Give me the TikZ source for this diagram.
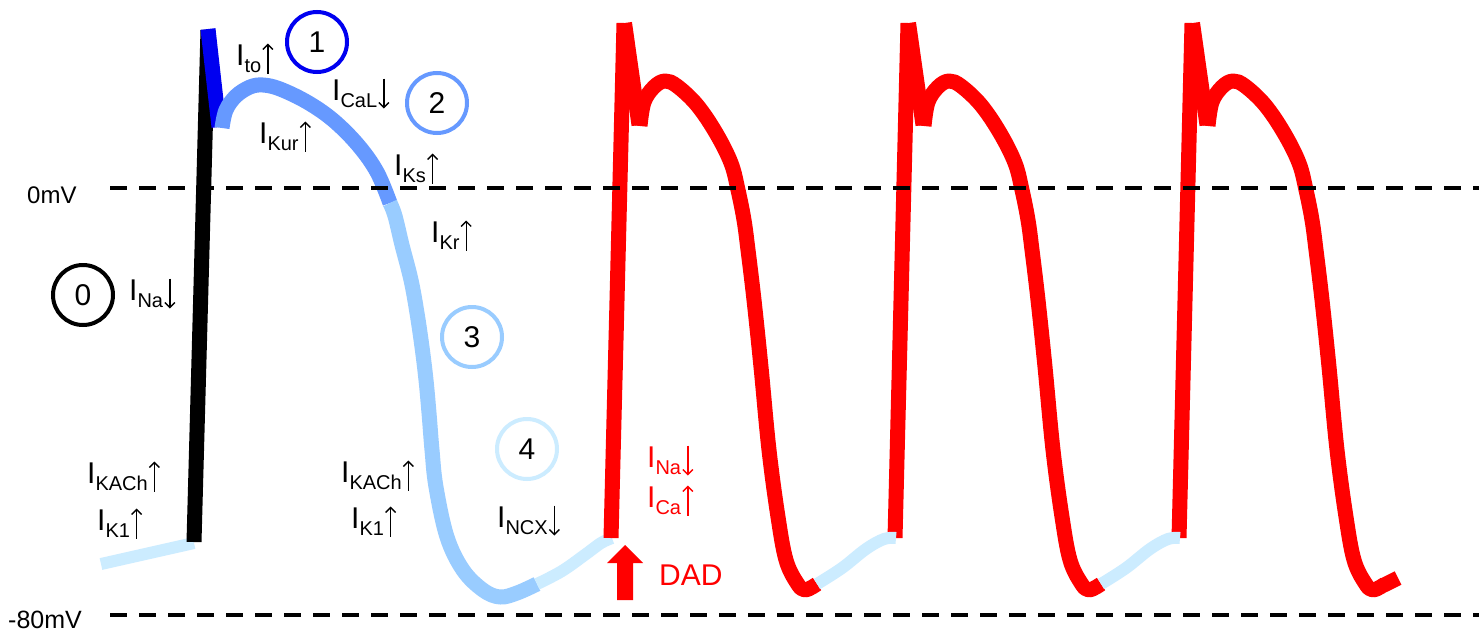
\documentclass[tikz,border=0pt]{standalone}
\usepackage{fontspec}
\setmainfont{Liberation Sans}
\usetikzlibrary{arrows.meta}
\definecolor{phA}{HTML}{0000F0}
\definecolor{phB}{HTML}{6699FF}
\definecolor{phC}{HTML}{99CCFF}
\definecolor{phD}{HTML}{CCECFF}
\definecolor{apred}{HTML}{FF0000}
\newcommand{\upar}{\hspace{1pt}\tikz[x=1pt,y=1pt,baseline=0pt]{\draw[line width=1.4pt, line cap=butt, -{Straight Barb[length=5pt,width=10pt]}] (0,-8.5)--(0,21.5);}}
\newcommand{\dnar}{\hspace{1pt}\tikz[x=1pt,y=1pt,baseline=0pt]{\draw[line width=1.4pt, line cap=butt, -{Straight Barb[length=5pt,width=10pt]}] (0,21.5)--(0,-8.5);}}
\newcommand{\cur}[2]{I\raisebox{-7pt}{\fontsize{20}{20}\selectfont #1}#2}
\begin{document}
\begin{tikzpicture}[x=1pt,y=-1pt,
  trace/.style={line width=15pt, line cap=butt, line join=round},
  lt/.style={line width=12pt, phD, line cap=butt},
  lbl/.style={anchor=base west, inner sep=0pt, font=\fontsize{30}{30}\selectfont},
  phase/.style={circle, line width=4pt, minimum size=60pt, inner sep=0pt, font=\fontsize{30}{30}\selectfont, text=black},
  zeroline/.style={line width=4.5pt, dash pattern=on 17pt off 12pt}]
\fill[white] (0,0) rectangle (1479,632);
\useasboundingbox (0,0) rectangle (1479,632);

% first action potential
\draw[lt] (101,564) -- (194,543);
\draw[trace, black] (194,542) -- (208,30);
\draw[trace, phA] (208,29) -- (219,127);
\draw[trace, phB] plot[smooth, tension=0.6] coordinates {(222,128) (226,110) (236,96) (250,87) (263,85) (280,89) (307,102) (333,120) (358,145) (377,172) (390,203)};
\draw[trace, phC] plot[smooth, tension=0.6] coordinates {(390,203) (395,216) (402,245) (411,280) (417,313) (422,347) (426,380) (429,413) (432,450) (436,487) (447,537) (463,570) (483,590) (500,597) (517,593) (537,584)};
\draw[lt] plot[smooth, tension=0.6] coordinates {(537,584) (562,571) (586,554) (601,543) (612,538)};

% triggered action potentials
\foreach \s in {0,284,568}{
  \begin{scope}[xshift=\s pt]
    \draw[trace, apred] (611,538) -- (624,23);
    \draw[trace, apred] (624.5,23) -- (639,125);
    \draw[trace, apred] plot[smooth, tension=0.6] coordinates {(640,126) (644,102) (654,87) (665,81) (677,86) (697,105) (716,133) (731,163) (738,190) (744,220) (748,250) (754,300) (761,367) (769,450) (778,517) (786,560) (797,583) (805,590) (817,584)};
  \end{scope}
}
\foreach \s in {0,284}{
  \begin{scope}[xshift=\s pt]
    \draw[lt] plot[smooth, tension=0.6] coordinates {(817,584) (842,568) (866,549) (884,539) (896,538)};
  \end{scope}
}
\draw[trace, apred] (1384,585) -- (1398,578);

% reference lines
\draw[zeroline] (110,188) -- (1479,188);
\draw[zeroline] (110,615) -- (1479,615);
\node[anchor=base west, inner sep=0pt, font=\fontsize{24}{24}\selectfont] (l0) at (27,203) {0mV};
\node[anchor=base west, inner sep=0pt, font=\fontsize{25}{25}\selectfont] (l80) at (8,628) {-80mV};

% phase circles
\node[phase, draw=black] (c0) at (83,295) {0};
\node[phase, draw=phA] (c1) at (317,42) {1};
\node[phase, draw=phB] (c2) at (437,103) {2};
\node[phase, draw=phC] (c3) at (472,337) {3};
\node[phase, draw=phD] (c4) at (527,449) {4};

% currents
\node[lbl] (ito) at (236,65) {\cur{to}{\upar}};
\node[lbl] (ical) at (332,100) {\cur{CaL}{\dnar}};
\node[lbl] (ikur) at (259,143) {\cur{Kur}{\upar}};
\node[lbl] (iks) at (394,175) {\cur{Ks}{\upar}};
\node[lbl] (ikr) at (431,242) {\cur{Kr}{\upar}};
\node[lbl] (ina) at (129,300) {\cur{Na}{\dnar}};
\node[lbl] (ikach1) at (87,483) {\cur{KACh}{\upar}};
\node[lbl] (ikone1) at (97,530) {\cur{K1}{\upar}};
\node[lbl] (ikach2) at (341,482) {\cur{KACh}{\upar}};
\node[lbl] (ikone2) at (351,528) {\cur{K1}{\upar}};
\node[lbl] (incx) at (497,527) {\cur{NCX}{\dnar}};
\node[lbl, text=apred] (inared) at (647,467) {\color{apred}\cur{Na}{\dnar}};
\node[lbl, text=apred] (icared) at (647,507) {\color{apred}\cur{Ca}{\upar}};
\node[lbl, text=apred] (dad) at (659,585) {DAD};

% DAD arrow
\fill[apred] (617,600) -- (633,600) -- (633,563) -- (643,563) -- (625,545) -- (607,563) -- (617,563) -- cycle;
\end{tikzpicture}
\end{document}
